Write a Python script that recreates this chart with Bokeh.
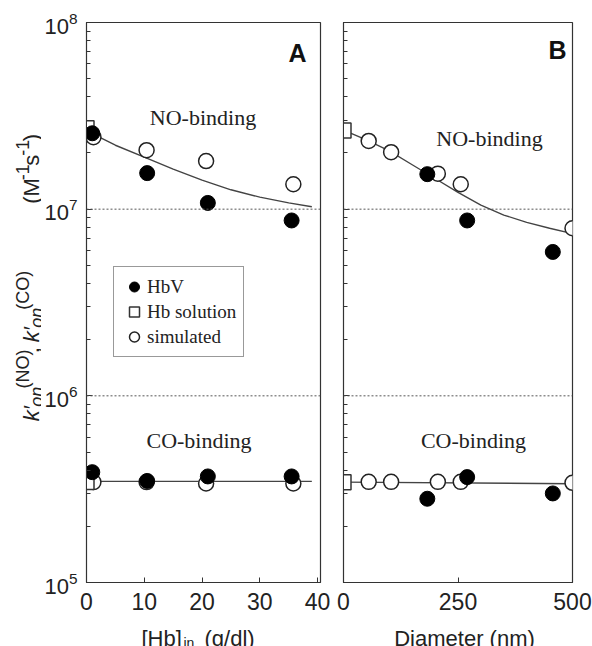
import math
from bokeh.plotting import figure
from bokeh.models import Range1d, Span, Label, Legend, LegendItem, FixedTicker, LogTicker
from bokeh.layouts import row, column
from bokeh.embed import file_html
from bokeh.resources import INLINE

# ---------------- data ----------------
# Panel A : [Hb]in (g/dl)
a_hbv_x = [1, 10.5, 21, 35.5]
a_hbv_no = [2.55e7, 1.56e7, 1.08e7, 8.7e6]
a_hbv_co = [3.9e5, 3.5e5, 3.7e5, 3.7e5]
a_sim_x = [1.2, 10.4, 20.7, 35.8]
a_sim_no = [2.43e7, 2.07e7, 1.81e7, 1.36e7]
a_sim_co = [3.45e5, 3.45e5, 3.39e5, 3.39e5]
a_sol_x = [0]
a_sol_no = [2.71e7]
a_sol_co = [3.45e5]
a_fit_x = [1, 5, 10, 15, 20, 25, 30, 35, 39]
a_fit_no = [2.54e7, 2.2e7, 1.9e7, 1.64e7, 1.43e7, 1.27e7, 1.16e7, 1.08e7, 1.03e7]
a_fit_co_x = [0, 39]
a_fit_co = [3.48e5, 3.48e5]
a_xticks = [0, 10, 20, 30, 40]

# Panel B : Diameter (nm)
b_hbv_x = [183, 270, 457]
b_hbv_no = [1.54e7, 8.7e6, 5.9e6]
b_hbv_co = [2.81e5, 3.67e5, 3.0e5]
b_sim_x = [55, 104, 206, 256, 500]
b_sim_no = [2.32e7, 2.02e7, 1.55e7, 1.36e7, 7.9e6]
b_sim_co = [3.46e5, 3.46e5, 3.46e5, 3.46e5, 3.42e5]
b_sol_x = [0]
b_sol_no = [2.64e7]
b_sol_co = [3.44e5]
b_fit_x = [0, 50, 100, 150, 200, 250, 300, 350, 400, 450, 500]
b_fit_no = [2.65e7, 2.35e7, 2.05e7, 1.73e7, 1.46e7, 1.23e7, 1.05e7, 9.3e6, 8.5e6, 7.9e6, 7.4e6]
b_fit_co_x = [0, 500]
b_fit_co = [3.45e5, 3.38e5]
b_xticks = [0, 250, 500]
y_decades = [1e5, 1e6, 1e7, 1e8]

# ---------------- layout constants (page pixels) ----------------
TOP = 22          # frame top
FRAME_H = 560
BOTTOM = 36       # room for x tick labels
H_TOP = TOP + FRAME_H + BOTTOM
TOTAL_H = 646
TOTAL_W = 592
Y_LO, Y_HI = 1e5, 1e8
FY_W = 41
A_LEFT, A_W, A_XMAX = 85, 235, 40.5
B_LEFT, B_W, B_XMAX = 343, 229, 500
A_RB = 13
INK = "#222222"
SANS = "Liberation Sans"
SERIF = "Liberation Serif"


def ydata(py):
    dec = math.log10(Y_HI) - math.log10(Y_LO)
    return 10 ** (math.log10(Y_HI) - (py - TOP) / FRAME_H * dec)


def xa(px):
    return (px - A_LEFT) / A_W * A_XMAX


def xb(px):
    return (px - B_LEFT) / B_W * B_XMAX


def make_fig(xmax, xticks, frame_w, bl, br):
    p = figure(title=None, width=bl + frame_w + br, height=H_TOP,
               x_range=Range1d(0, xmax), y_range=Range1d(Y_LO, Y_HI),
               y_axis_type="log", output_backend="svg", toolbar_location=None,
               min_border_left=bl, min_border_right=br,
               min_border_top=TOP, min_border_bottom=BOTTOM)
    p.grid.visible = False
    p.outline_line_color = "#333333"
    p.outline_line_width = 1.2
    p.background_fill_color = "white"
    p.border_fill_color = "white"
    ax = p.xaxis[0]
    ax.ticker = FixedTicker(ticks=xticks, minor_ticks=[])
    ax.major_tick_in = 5
    ax.major_tick_out = 0
    ax.axis_line_color = "#333333"
    ax.major_tick_line_color = "#333333"
    ax.major_label_text_font = SANS
    ax.major_label_text_font_size = "23px"
    ax.major_label_text_color = INK
    ax.major_label_standoff = 10
    ya = p.yaxis[0]
    ya.ticker = LogTicker(num_minor_ticks=10)
    ya.major_tick_in = 6
    ya.major_tick_out = 0
    ya.minor_tick_in = 4
    ya.minor_tick_out = 0
    ya.axis_line_color = "#333333"
    ya.major_tick_line_color = "#333333"
    ya.minor_tick_line_color = "#333333"
    ya.major_label_text_font = SANS
    ya.major_label_text_font_size = "22px"
    ya.major_label_text_color = INK
    ya.major_label_standoff = 9
    for lv in (1e7, 1e6):
        p.add_layout(Span(location=lv, dimension="width", line_dash="2 2",
                          line_color="#555555", line_width=1))
    return p


def draw(p, fit_x, fit_no, fco_x, fco, sim_x, sim_no, sim_co, sol_x, sol_no, sol_co, hbv_x, hbv_no, hbv_co):
    p.line(fit_x, fit_no, line_color="#444444", line_width=1.4)
    p.line(fco_x, fco, line_color="#444444", line_width=1.4)
    r_sim = p.scatter(sim_x + sim_x, sim_no + sim_co, marker="circle", size=15,
                      fill_color="white", line_color=INK, line_width=1.5)
    r_sol = p.scatter(sol_x + sol_x, sol_no + sol_co, marker="square", size=15,
                      fill_color="white", line_color="#333333", line_width=1.5)
    r_hbv = p.scatter(hbv_x + hbv_x, hbv_no + hbv_co, marker="circle", size=15,
                      fill_color="black", line_color="black", line_width=1)
    return r_hbv, r_sol, r_sim


def lab(p, x, y, text, size, font=SANS, style="normal", angle=0.0,
        align="left", baseline="alphabetic", color=INK):
    p.add_layout(Label(x=x, y=y, text=text, angle=angle,
                       text_font=font, text_font_size=f"{size}px", text_font_style=style,
                       text_align=align, text_baseline=baseline, text_color=color))


def text_fig(w, h, x0, y0):
    """A bare figure whose frame fills the canvas; data coords = page pixels (y negated)."""
    f = figure(title=None, width=w, height=h, x_range=Range1d(x0, x0 + w),
               y_range=Range1d(-(y0 + h), -y0),
               x_axis_location=None, y_axis_location=None, output_backend="svg",
               toolbar_location=None, min_border=0, min_border_left=0, min_border_right=0,
               min_border_top=0, min_border_bottom=0)
    f.grid.visible = False
    f.outline_line_color = None
    f.background_fill_color = "white"
    f.border_fill_color = "white"
    return f


# ---------------- panel A ----------------
pA = make_fig(A_XMAX, a_xticks, A_W, A_LEFT - FY_W, A_RB)
r_hbv, r_sol, r_sim = draw(pA, a_fit_x, a_fit_no, a_fit_co_x, a_fit_co,
                           a_sim_x, a_sim_no, a_sim_co, a_sol_x, a_sol_no, a_sol_co,
                           a_hbv_x, a_hbv_no, a_hbv_co)

legend = Legend(items=[LegendItem(label="HbV", renderers=[r_hbv]),
                       LegendItem(label="Hb solution", renderers=[r_sol]),
                       LegendItem(label="simulated", renderers=[r_sim])],
                location=(27, 225))
legend.label_text_font = SERIF
legend.label_text_font_size = "19px"
legend.label_text_color = INK
legend.glyph_width = 26
legend.glyph_height = 25
legend.label_height = 25
legend.spacing = 0
legend.padding = 7
legend.margin = 0
legend.label_standoff = 0
legend.border_line_color = "#333333"
legend.border_line_width = 1
legend.background_fill_alpha = 1.0
pA.add_layout(legend)

lab(pA, xa(202), ydata(117), "NO-binding", 22, font=SERIF, align="center", baseline="middle")
lab(pA, xa(198), ydata(440), "CO-binding", 22, font=SERIF, align="center", baseline="middle")
lab(pA, xa(297), ydata(52), "A", 25, style="bold", align="center", baseline="middle", color="#111111")

# ---------------- panel B ----------------
B_LB = B_LEFT - (A_LEFT + A_W + A_RB)
B_RB = TOTAL_W - B_LEFT - B_W
pB = make_fig(B_XMAX, b_xticks, B_W, B_LB, B_RB)
pB.yaxis[0].major_label_overrides = {d: "" for d in y_decades}
pB.yaxis[0].major_label_standoff = 0
draw(pB, b_fit_x, b_fit_no, b_fit_co_x, b_fit_co,
     b_sim_x, b_sim_no, b_sim_co, b_sol_x, b_sol_no, b_sol_co,
     b_hbv_x, b_hbv_no, b_hbv_co)

lab(pB, xb(489), ydata(138), "NO-binding", 22, font=SERIF, align="center", baseline="middle")
lab(pB, xb(473), ydata(440), "CO-binding", 22, font=SERIF, align="center", baseline="middle")
lab(pB, xb(557), ydata(49), "B", 25, style="bold", align="center", baseline="middle", color="#111111")

# ---------------- rotated y-axis title (left strip) ----------------
fy = text_fig(FY_W, H_TOP, 0, 0)
R = math.pi / 2
BX, SUBX, SUPX = 31, 36, 22
lab(fy, BX, -440, "k\u2032", 22, style="italic", angle=R)
lab(fy, SUBX, -424, "on", 18, style="italic", angle=R)
lab(fy, SUPX, -404, "(NO)", 18, angle=R)
lab(fy, BX, -365, ",", 22, angle=R)
lab(fy, BX, -353, "k\u2032", 22, style="italic", angle=R)
lab(fy, SUBX, -337, "on", 18, style="italic", angle=R)
lab(fy, SUPX, -317, "(CO)", 18, angle=R)
lab(fy, BX, -200, "(M", 22, angle=R)
lab(fy, SUPX, -174, "-1", 18, angle=R)
lab(fy, BX, -158, "s", 22, angle=R)
lab(fy, SUPX, -147, "-1", 18, angle=R)
lab(fy, BX, -131, ")", 22, angle=R)

# ---------------- x-axis titles (bottom strip) ----------------
fx = text_fig(TOTAL_W, TOTAL_H - H_TOP, 0, H_TOP)
lab(fx, 141, -638, "[Hb]", 22)
lab(fx, 183, -642, "in", 14)
lab(fx, 204, -638, "(g/dl)", 22)
lab(fx, 464, -638, "Diameter (nm)", 22, align="center")

layout = column(row(fy, pA, pB, spacing=0), fx, spacing=0)
open("out.html", "w").write(file_html(layout, INLINE))
